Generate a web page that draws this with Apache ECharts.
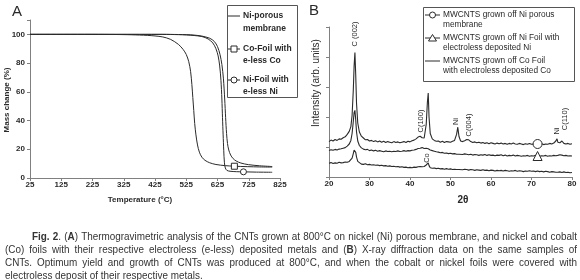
<!DOCTYPE html>
<html>
<head>
<meta charset="utf-8">
<script src="https://cdn.jsdelivr.net/npm/echarts@6/dist/echarts.min.js"></script>
<style>
html,body{margin:0;padding:0;background:#fff;}
#fig{width:580px;height:280px;}
</style>
</head>
<body>
<div id="fig"></div>
<script>
// ---- panel A : TGA, temperature (°C) vs mass change (%)
const niPorousTemp = [25, 300, 450, 500, 525, 550, 575, 600, 615, 625, 633, 639, 644, 648, 651, 654, 657, 661, 667, 675, 685, 700, 724, 760, 800];
const niPorousMass = [100, 100, 100, 99.9, 99.8, 99.5, 98.8, 97.3, 95, 91.5, 86, 79, 69, 55, 42, 31, 24, 19.5, 16, 13.5, 11.8, 10.4, 9.3, 8.5, 8];
const coFoilTemp = [25, 200, 300, 350, 400, 425, 450, 475, 500, 515, 525, 533, 539, 543, 546, 549, 552, 556, 561, 567, 575, 585, 600, 620, 650, 679, 720, 760, 800];
const coFoilMass = [100, 100, 99.9, 99.7, 99.3, 98.9, 98.2, 96.5, 93, 89.5, 86, 81, 74, 65, 56, 47, 38, 30, 23, 18, 14.5, 12.3, 10.6, 9.4, 8.6, 8.2, 7.9, 7.7, 7.6];
const niFoilTemp = [25, 300, 450, 500, 525, 550, 575, 595, 610, 620, 627, 632, 636, 639, 641, 643, 645, 647, 650, 655, 665, 685, 708, 750, 800];
const niFoilMass = [100, 100, 100, 99.8, 99.6, 99.2, 98.5, 96.8, 94, 90, 85, 78, 68, 55, 42, 30, 19, 11, 7, 5.3, 4.7, 4.4, 4.3, 4.1, 4];
const coFoilMarkAt = 679;
const niFoilMarkAt = 708;

// ---- panel B : XRD, 2theta vs intensity (arb. units)
const twoTheta = [
  20, 20.5, 21, 21.5, 22, 22.5, 23, 23.5, 24, 24.5, 25,
  25.4, 25.7, 26.0, 26.2, 26.4, 26.6, 26.8, 27.1, 27.5,
  28, 28.5, 29, 29.5, 30, 30.5, 31, 31.5, 32, 32.5, 33, 33.5, 34, 34.5, 35, 35.5, 36, 36.5, 37, 37.5,
  38, 38.5, 39, 39.5, 40, 40.5, 41, 41.5, 42, 42.5, 43, 43.5, 44,
  44.3, 44.5, 44.7, 45,
  45.5, 46, 46.5, 47, 47.5, 48, 48.5, 49, 49.5, 50, 50.5, 51, 51.5,
  51.8, 52.1,
  52.5, 53, 53.5, 54, 54.5, 55, 55.5, 56, 56.5, 57, 57.5, 58, 58.5, 59, 59.5, 60, 60.5, 61, 61.5, 62,
  62.5, 63, 63.5, 64, 64.5, 65, 65.5, 66, 66.5, 67, 67.5, 68, 68.5, 69, 69.5, 70, 70.5, 71, 71.5, 72,
  72.5, 73, 73.5, 74, 74.5, 75, 75.5, 76,
  76.3,
  76.5, 77, 77.5, 78, 78.5, 79, 79.5, 80
];
const xrdNiPorous = [
  1.18, 1.23, 1.20, 1.25, 1.22, 1.27, 1.26, 1.31, 1.34, 1.42, 1.52,
  1.68, 2.05, 2.9, 3.7, 4.15, 3.4, 2.45, 1.8, 1.5,
  1.36, 1.30, 1.24, 1.25, 1.20, 1.22, 1.18, 1.21, 1.17, 1.20, 1.16, 1.19, 1.15, 1.18, 1.16, 1.14, 1.18, 1.15, 1.17, 1.14,
  1.16, 1.18, 1.15, 1.19, 1.17, 1.21, 1.23, 1.27, 1.33, 1.36, 1.31, 1.30, 1.75,
  2.5, 2.8, 2.0, 1.45,
  1.27, 1.22, 1.19, 1.20, 1.16, 1.19, 1.15, 1.18, 1.17, 1.16, 1.19, 1.22, 1.42,
  1.66, 1.35,
  1.20, 1.18, 1.21, 1.25, 1.24, 1.18, 1.15, 1.17, 1.14, 1.16, 1.13, 1.15, 1.12, 1.14, 1.11, 1.14, 1.12, 1.10, 1.13, 1.11,
  1.13, 1.10, 1.12, 1.09, 1.12, 1.10, 1.13, 1.10, 1.09, 1.12, 1.10, 1.08, 1.11, 1.09, 1.12, 1.09, 1.10, 1.08, 1.10, 1.09,
  1.11, 1.08, 1.10, 1.09, 1.12, 1.10, 1.13, 1.20,
  1.27,
  1.16, 1.14, 1.20, 1.12, 1.10, 1.12, 1.09, 1.11
];
const xrdNiFoil = [
  0.88, 0.91, 0.89, 0.92, 0.90, 0.93, 0.94, 0.96, 0.98, 1.03, 1.10,
  1.22, 1.45, 1.85, 2.15, 2.22, 1.9, 1.5, 1.2, 1.05,
  0.97, 0.93, 0.91, 0.92, 0.88, 0.90, 0.87, 0.89, 0.86, 0.88, 0.86, 0.84, 0.87, 0.85, 0.86, 0.84, 0.86, 0.85, 0.87, 0.85,
  0.86, 0.88, 0.86, 0.88, 0.87, 0.89, 0.90, 0.92, 0.95, 0.96, 0.98, 0.95, 0.96,
  0.93, 0.94, 0.91, 0.90,
  0.88, 0.86, 0.84, 0.83, 0.81, 0.82, 0.79, 0.80, 0.78, 0.79, 0.77, 0.78, 0.76,
  0.78, 0.76,
  0.77, 0.75, 0.77, 0.76, 0.74, 0.76, 0.73, 0.75, 0.74, 0.72, 0.74, 0.73, 0.75, 0.72, 0.74, 0.72, 0.73, 0.71, 0.73, 0.72,
  0.74, 0.71, 0.73, 0.70, 0.72, 0.71, 0.73, 0.70, 0.72, 0.71, 0.69, 0.71, 0.70, 0.72, 0.69, 0.71, 0.70, 0.72, 0.70, 0.69,
  0.71, 0.70, 0.72, 0.69, 0.71, 0.70, 0.72, 0.71,
  0.73,
  0.72, 0.74, 0.73, 0.71, 0.72, 0.70, 0.71, 0.70
];
const xrdCoFoil = [
  0.46, 0.48, 0.45, 0.47, 0.46, 0.49, 0.47, 0.48, 0.50, 0.49, 0.52,
  0.56, 0.63, 0.78, 0.90, 0.95, 0.82, 0.66, 0.52, 0.46,
  0.43, 0.42, 0.44, 0.41, 0.42, 0.40, 0.41, 0.39, 0.40, 0.38, 0.39, 0.37, 0.38, 0.36, 0.37, 0.35, 0.36, 0.34, 0.35, 0.33,
  0.34, 0.32, 0.33, 0.31, 0.32, 0.31, 0.33, 0.32, 0.34, 0.35, 0.34, 0.35, 0.40,
  0.46, 0.47, 0.38, 0.31,
  0.29, 0.30, 0.28, 0.29, 0.27, 0.28, 0.26, 0.28, 0.26, 0.27, 0.25, 0.26, 0.25,
  0.27, 0.25,
  0.26, 0.24, 0.26, 0.25, 0.23, 0.25, 0.24, 0.22, 0.24, 0.23, 0.22, 0.24, 0.22, 0.23, 0.21, 0.23, 0.22, 0.20, 0.22, 0.21,
  0.22, 0.20, 0.22, 0.21, 0.19, 0.21, 0.20, 0.22, 0.19, 0.21, 0.20, 0.18, 0.20, 0.19, 0.21, 0.19, 0.20, 0.18, 0.20, 0.18,
  0.19, 0.17, 0.19, 0.18, 0.16, 0.18, 0.17, 0.16,
  0.18,
  0.16, 0.17, 0.15, 0.17, 0.15, 0.16, 0.14, 0.15
];
const xrdMarkAt = 71.5;

const captionLines = [
  {x: 32, justify: true, text: '**Fig. 2**. (**A**) Thermogravimetric analysis of the CNTs grown at 800°C on nickel (Ni) porous membrane, and nickel and cobalt'},
  {x: 5, justify: true, text: '(Co) foils with their respective electroless (e-less) deposited metals and (**B**) X-ray diffraction data on the same samples of'},
  {x: 5, justify: true, text: 'CNTs. Optimum yield and growth of CNTs was produced at 800°C, and when the cobalt or nickel foils were covered with'},
  {x: 5, justify: false, text: 'electroless deposit of their respective metals.'}
];

const INK = '#2a2a2a';
const AXIS = '#808080';
const FONT = 'Liberation Sans';

function pairs(xs, ys, markAt, symbol, size) {
  return xs.map(function (x, i) {
    if (x === markAt) {
      return {value: [x, ys[i]], symbol: symbol, symbolSize: size,
        itemStyle: {color: '#fff', borderColor: INK, borderWidth: 1}};
    }
    return [x, ys[i]];
  });
}

function txt(x, y, s, o) {
  o = o || {};
  const al = o.align || 'center';
  return {type: 'text', x: x, y: y, rotation: o.rot || 0, z: 60,
    style: {text: s, fill: o.color || INK, fontSize: o.size || 8,
      fontWeight: o.bold ? 'bold' : 'normal', fontFamily: o.family || FONT,
      textAlign: al, align: al, textVerticalAlign: 'middle', verticalAlign: 'middle'}};
}
function seg(x1, y1, x2, y2) {
  return {type: 'line', z: 60, shape: {x1: x1, y1: y1, x2: x2, y2: y2}, style: {stroke: INK, lineWidth: 1}};
}
const hollow = {fill: '#fff', stroke: INK, lineWidth: 1};

// ---- caption, justified word by word (horizontally squeezed like the print)
function toWords(text) {
  const parts = text.split('**');
  const chars = [];
  parts.forEach(function (p, k) {
    for (const ch of p) chars.push({ch: ch, bold: k % 2 === 1});
  });
  const words = [];
  let cur = [];
  chars.forEach(function (c) {
    if (c.ch === ' ') { if (cur.length) words.push(cur); cur = []; return; }
    const last = cur[cur.length - 1];
    if (last && last.bold === c.bold) last.text += c.ch;
    else cur.push({text: c.ch, bold: c.bold});
  });
  if (cur.length) words.push(cur);
  return words;
}
function captionGraphics() {
  const ctx = document.createElement('canvas').getContext('2d');
  const size = 11;
  const right = 577;
  const lines = captionLines.map(function (l) { return toWords(l.text); });
  const fontOf = function (b) { return (b ? 'bold ' : '') + size + 'px "' + FONT + '"'; };
  const segW = function (sg) { ctx.font = fontOf(sg.bold); return ctx.measureText(sg.text).width; };
  const wordW = function (w) { return w.reduce(function (a, sg) { return a + segW(sg); }, 0); };
  ctx.font = fontOf(false);
  const space = ctx.measureText(' ').width;
  let ratio = 0;
  lines.forEach(function (w, i) {
    if (!captionLines[i].justify) return;
    const nat = w.reduce(function (a, x) { return a + wordW(x); }, 0) + space * (w.length - 1);
    ratio = Math.max(ratio, nat / (right - captionLines[i].x));
  });
  const sx = Math.min(1, 0.985 / ratio);
  const out = [];
  const baseY = 236.5, step = 13.3;
  lines.forEach(function (words, i) {
    const l = captionLines[i];
    const total = words.reduce(function (a, w) { return a + wordW(w) * sx; }, 0);
    const gap = l.justify ? (right - l.x - total) / (words.length - 1) : space * sx;
    let x = l.x;
    words.forEach(function (w) {
      w.forEach(function (sg) {
        out.push({type: 'text', x: x, y: baseY + i * step, scaleX: sx, z: 60,
          style: {text: sg.text, fill: '#333', fontSize: size, fontFamily: FONT,
            fontWeight: sg.bold ? 'bold' : 'normal',
            textAlign: 'left', align: 'left', textVerticalAlign: 'middle', verticalAlign: 'middle'}});
        x += segW(sg) * sx;
      });
      x += gap;
    });
  });
  return out;
}

const tick = {color: INK, fontSize: 8, fontWeight: 'bold', fontFamily: FONT};

const graphics = [
  // panel letters and axis titles
  txt(17, 12, 'A', {size: 15}),
  txt(314, 11, 'B', {size: 15}),
  txt(7, 100, 'Mass change (%)', {rot: Math.PI / 2, bold: true, size: 8}),
  txt(140, 200, 'Temperature (°C)', {bold: true, size: 8}),
  txt(316, 83, 'Intensity (arb. units)', {rot: Math.PI / 2, size: 10}),
  txt(463, 200, '2θ', {bold: true, size: 10}),

  // legend A
  {type: 'rect', z: 55, shape: {x: 227.5, y: 5.5, width: 70, height: 92}, style: {fill: '#fff', stroke: '#555', lineWidth: 1}},
  seg(228, 16, 240, 16),
  txt(243, 16, 'Ni-porous', {align: 'left', bold: true, size: 8.5}),
  txt(243, 28.5, 'membrane', {align: 'left', bold: true, size: 8.5}),
  seg(228, 49, 240, 49),
  {type: 'rect', z: 61, shape: {x: 231, y: 46, width: 6, height: 6}, style: hollow},
  txt(243, 49, 'Co-Foil with', {align: 'left', bold: true, size: 8.5}),
  txt(243, 61, 'e-less Co', {align: 'left', bold: true, size: 8.5}),
  seg(228, 80, 240, 80),
  {type: 'circle', z: 61, shape: {cx: 234, cy: 80, r: 3}, style: hollow},
  txt(243, 80, 'Ni-Foil with', {align: 'left', bold: true, size: 8.5}),
  txt(243, 92, 'e-less Ni', {align: 'left', bold: true, size: 8.5}),

  // legend B
  {type: 'rect', z: 55, shape: {x: 423.5, y: 7.5, width: 151, height: 74}, style: {fill: '#fff', stroke: '#555', lineWidth: 1}},
  seg(425, 15, 440, 15),
  {type: 'circle', z: 61, shape: {cx: 432.5, cy: 15, r: 3}, style: hollow},
  txt(443, 15, 'MWCNTS grown off Ni porous', {align: 'left', size: 8.3}),
  txt(443, 25, 'membrane', {align: 'left', size: 8.3}),
  seg(425, 38, 440, 38),
  {type: 'polygon', z: 61, shape: {points: [[432.5, 34.5], [436.5, 41], [428.5, 41]]}, style: hollow},
  txt(443, 38, 'MWCNTS grown off Ni Foil with', {align: 'left', size: 8.3}),
  txt(443, 48, 'electroless deposited Ni', {align: 'left', size: 8.3}),
  seg(425, 61, 440, 61),
  txt(443, 61, 'MWCNTS grown off Co Foil', {align: 'left', size: 8.3}),
  txt(443, 71, 'with electroless deposited Co', {align: 'left', size: 8.3}),

  // peak annotations
  txt(354.5, 34, 'C (002)', {rot: Math.PI / 2, size: 7.5}),
  txt(420.5, 121, 'C(100)', {rot: Math.PI / 2, size: 7.5}),
  txt(456, 121.5, 'Ni', {rot: Math.PI / 2, size: 7.5}),
  txt(468.5, 125, 'C(004)', {rot: Math.PI / 2, size: 7.5}),
  txt(556.5, 131, 'Ni', {rot: Math.PI / 2, size: 7.5}),
  txt(564.5, 119, 'C(110)', {rot: Math.PI / 2, size: 7.5}),
  txt(427, 158, 'Co', {rot: Math.PI / 2, size: 7.5})
].concat(captionGraphics());

const chart = echarts.init(document.getElementById('fig'), null, {renderer: 'canvas'});
const lineA = {type: 'line', xAxisIndex: 0, yAxisIndex: 0, symbol: 'none', smooth: 0.3,
  lineStyle: {color: INK, width: 1}, itemStyle: {color: INK}, animation: false, z: 3};
const lineB = {type: 'line', xAxisIndex: 1, yAxisIndex: 1, symbol: 'none',
  lineStyle: {color: INK, width: 1.1}, itemStyle: {color: INK}, animation: false, z: 3};

chart.setOption({
  animation: false,
  grid: [
    {left: 30, top: 20, width: 250, height: 158},
    {left: 329, top: 27, width: 243, height: 150}
  ],
  xAxis: [
    {gridIndex: 0, type: 'value', min: 25, max: 825, interval: 100,
      axisLine: {show: true, lineStyle: {color: AXIS}}, axisTick: {show: true, length: 3, lineStyle: {color: AXIS}},
      axisLabel: Object.assign({margin: 3}, tick), splitLine: {show: false}},
    {gridIndex: 1, type: 'value', min: 20, max: 80, interval: 10,
      axisLine: {show: true, lineStyle: {color: AXIS}}, axisTick: {show: true, length: 3, lineStyle: {color: AXIS}},
      axisLabel: Object.assign({margin: 3}, tick), splitLine: {show: false}}
  ],
  yAxis: [
    {gridIndex: 0, type: 'value', min: 0, max: 110, interval: 20,
      axisLine: {show: true, lineStyle: {color: AXIS}}, axisTick: {show: true, length: 3, lineStyle: {color: AXIS}},
      axisLabel: Object.assign({margin: 5, formatter: function (v) { return v > 100 ? '' : v; }}, tick),
      splitLine: {show: false}},
    {gridIndex: 1, type: 'value', min: 0, max: 5, interval: 1,
      axisLine: {show: true, lineStyle: {color: AXIS}}, axisTick: {show: true, length: 3, lineStyle: {color: AXIS}},
      axisLabel: {show: false}, splitLine: {show: false}}
  ],
  series: [
    Object.assign({name: 'Ni-porous membrane', data: pairs(niPorousTemp, niPorousMass, null)}, lineA),
    Object.assign({name: 'Co-Foil with e-less Co', data: pairs(coFoilTemp, coFoilMass, coFoilMarkAt, 'rect', 6)}, lineA),
    Object.assign({name: 'Ni-Foil with e-less Ni', data: pairs(niFoilTemp, niFoilMass, niFoilMarkAt, 'circle', 6)}, lineA),
    Object.assign({name: 'MWCNTS grown off Ni porous membrane', data: pairs(twoTheta, xrdNiPorous, xrdMarkAt, 'circle', 9)}, lineB),
    Object.assign({name: 'MWCNTS grown off Ni Foil with electroless deposited Ni', data: pairs(twoTheta, xrdNiFoil, xrdMarkAt, 'triangle', 9)}, lineB),
    Object.assign({name: 'MWCNTS grown off Co Foil with electroless deposited Co', data: pairs(twoTheta, xrdCoFoil, null)}, lineB)
  ],
  graphic: {elements: graphics}
});
</script>
</body>
</html>
